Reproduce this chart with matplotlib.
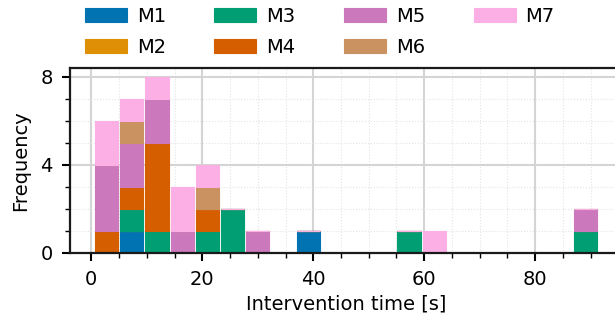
import matplotlib
matplotlib.use('Agg')
import matplotlib.pyplot as plt
from matplotlib.ticker import MultipleLocator
import seaborn as sns

# intervention times [s] per model
models = ['M1', 'M2', 'M3', 'M4', 'M5', 'M6', 'M7']
m1 = [7.2, 38.9]
m2 = []
m3 = [6.1, 12.4, 20.3, 24.8, 26.1, 57.0, 91.3]
m4 = [3.1, 8.4, 10.2, 11.3, 12.0, 13.5, 21.7]
m5 = [0.5, 2.4, 4.1, 5.9, 8.8, 10.7, 13.1, 16.2, 30.4, 88.5]
m6 = [7.7, 19.9]
m7 = [1.8, 3.6, 6.6, 11.8, 15.0, 17.3, 22.4, 61.2]
times = [m1, m2, m3, m4, m5, m6, m7]

colors = sns.color_palette('colorblind', len(models))

plt.rcParams['font.family'] = ['DejaVu Sans']
plt.rcParams['font.size'] = 14

fig = plt.figure(figsize=(6.15, 3.24), dpi=100)
ax = fig.add_axes([70 / 615, 71 / 324, 552 / 615, 184.8 / 324])
ax.set_axisbelow(True)

n, bins, patches = ax.hist(times, bins=20, stacked=True, rwidth=0.92,
                           color=colors, label=models)
for group, c in zip(patches, colors):
    for p in group:
        p.set_edgecolor(c)
        p.set_linewidth(0.8)

ax.xaxis.set_major_locator(MultipleLocator(20))
ax.xaxis.set_minor_locator(MultipleLocator(5))
ax.yaxis.set_major_locator(MultipleLocator(4))
ax.yaxis.set_minor_locator(MultipleLocator(1))
ax.grid(which='major', color='#d4d4d4', linewidth=1.5)
ax.grid(which='minor', color='#e4e4e4', linewidth=0.8, linestyle=':')

for s in ax.spines.values():
    s.set_linewidth(1.6)
    s.set_color('#1a1a1a')
ax.spines['right'].set_visible(False)
ax.tick_params(which='major', length=6, width=1.5, labelsize=14, pad=6.5)
ax.tick_params(which='minor', length=3.5, width=1)

ax.set_xlabel('Intervention time [s]', fontsize=14, labelpad=4)
ax.set_ylabel('Frequency', fontsize=14, labelpad=7)

fig.legend(loc='upper left', bbox_to_anchor=(85 / 615, 1 - 7 / 324),
           ncol=4, frameon=False, borderpad=0, borderaxespad=0,
           handlelength=2.16, handleheight=0.77, handletextpad=0.5,
           columnspacing=2.5, labelspacing=0.6, fontsize=14)

fig.savefig('out.png', dpi=100)
